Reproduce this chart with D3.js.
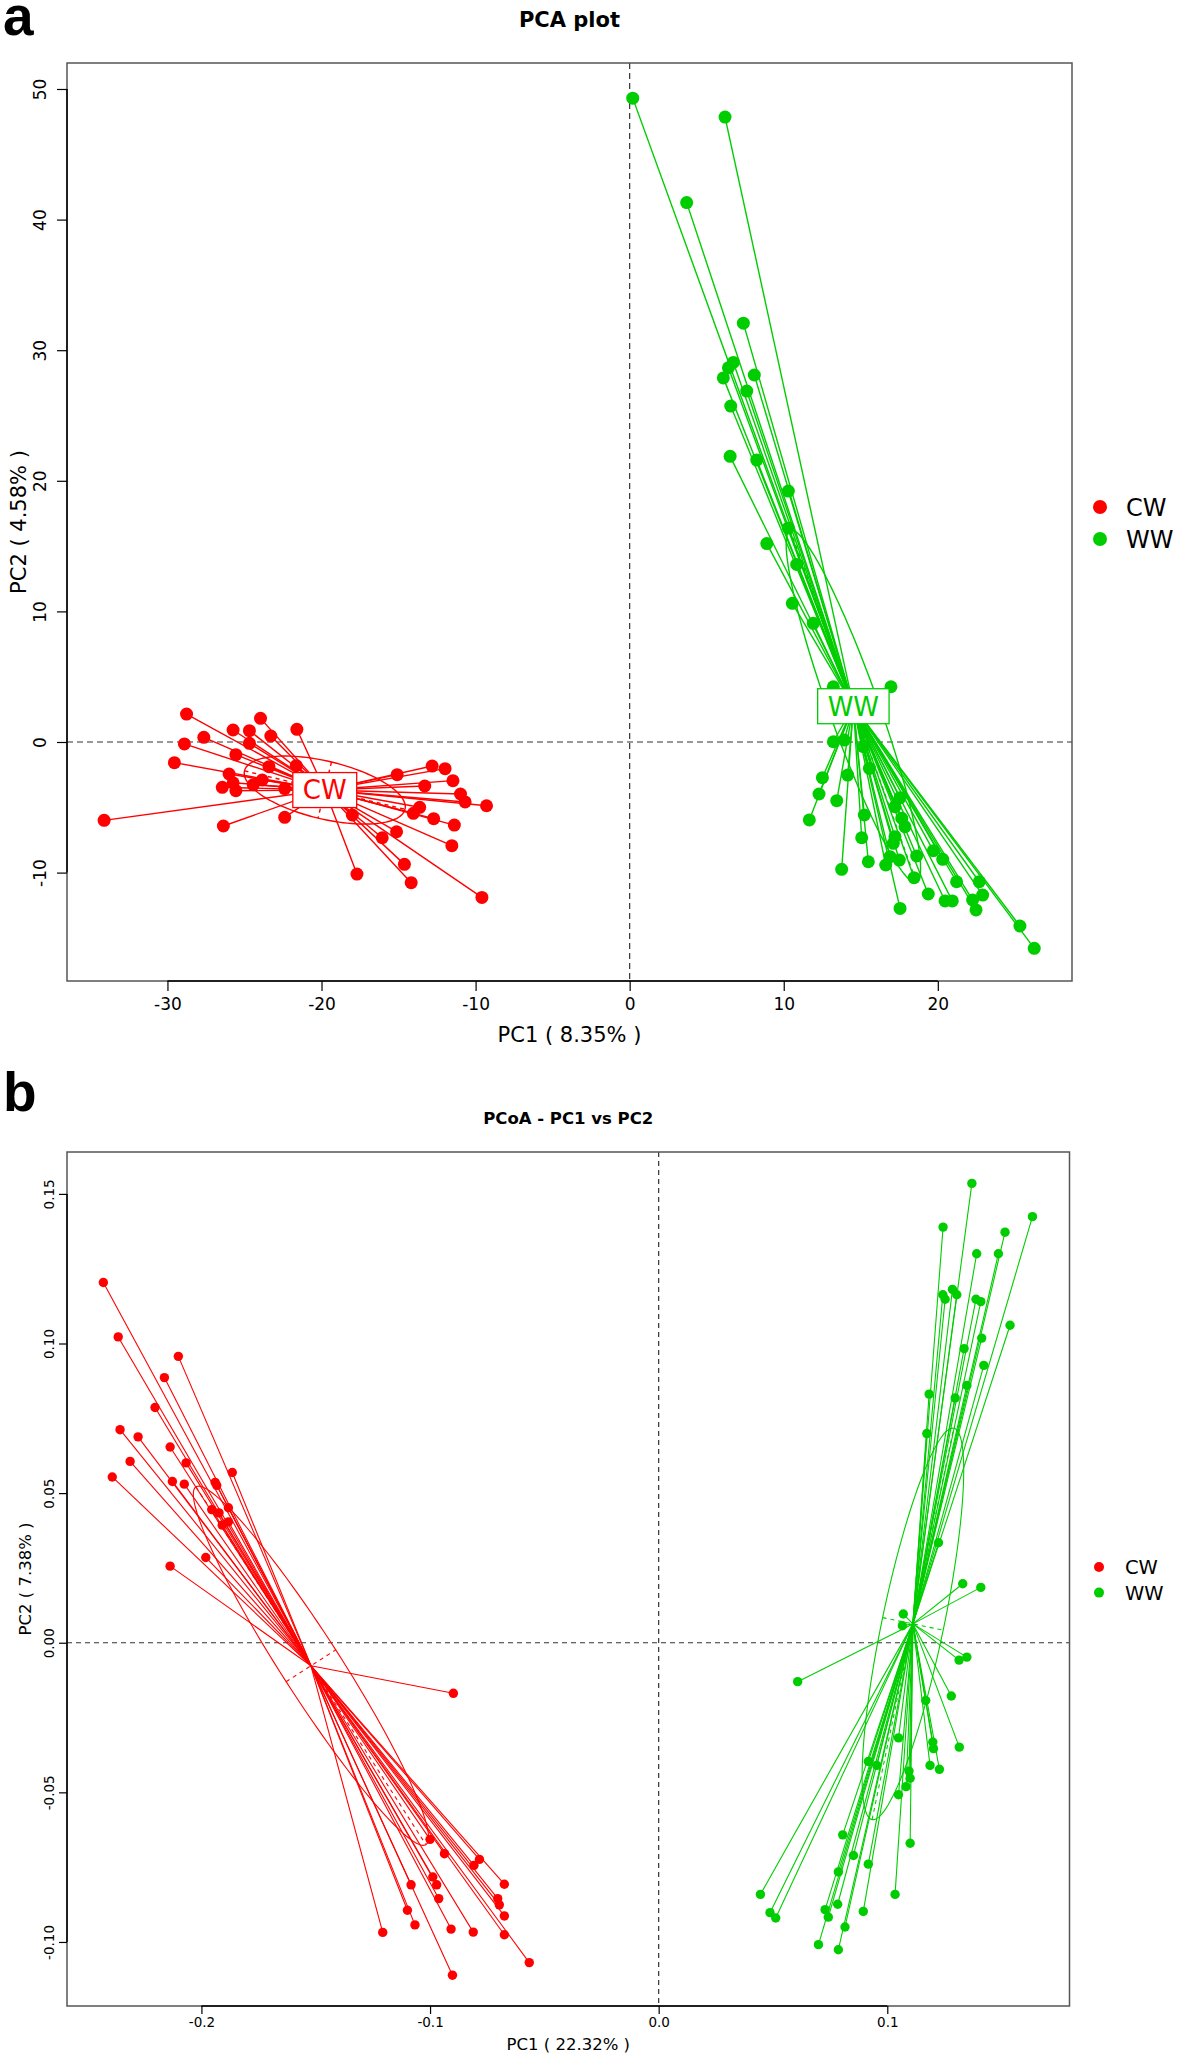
<!DOCTYPE html>
<html>
<head>
<meta charset="utf-8">
<script src="https://cdn.jsdelivr.net/npm/d3@7"></script>
<style>
  body { margin: 0; background: #fff; }
  svg { display: block; }
  text { font-family: "DejaVu Sans", sans-serif; }
</style>
</head>
<body>
<div id="chartDiv"></div>
<script>
const groups = ["CW", "WW"];
const groupColors = ["#ff0000", "#00cd00"];

// panel a - PCA scores [PC1, PC2]
const pcaCW = [
  [-28.76, 2.14], [-23.96, 1.81], [-25.74, 0.92], [-24.68, 0.87], [-21.60, 0.97],
  [-27.64, 0.36], [-23.29, 0.46], [-28.90, -0.15], [-24.68, -0.10], [-25.56, -0.97],
  [-29.55, -1.58], [-23.41, -1.89], [-21.64, -1.81], [-26.00, -2.45], [-25.74, -3.12],
  [-26.44, -3.47], [-25.56, -3.73], [-24.43, -3.27], [-23.85, -2.91], [-22.39, -3.57],
  [-34.11, -6.00], [-26.37, -6.43], [-22.39, -5.77], [-15.09, -2.50], [-12.82, -1.84],
  [-11.98, -2.04], [-11.47, -2.96], [-13.30, -3.37], [-10.98, -3.98], [-10.68, -4.59],
  [-9.29, -4.88], [-13.63, -5.00], [-14.04, -5.46], [-12.72, -5.87], [-11.38, -6.36],
  [-18.00, -5.59], [-15.13, -6.87], [-16.06, -7.33], [-11.54, -7.94], [-14.62, -9.37],
  [-14.18, -10.77], [-17.70, -10.11], [-9.59, -11.90]
];
const pcaWW = [
  [0.20, 49.30], [3.70, 41.30], [6.19, 47.85], [7.38, 32.07], [6.73, 29.06],
  [6.41, 28.65], [6.08, 27.88], [8.09, 28.10], [7.60, 26.87], [6.56, 25.72],
  [6.52, 21.87], [8.25, 21.59], [10.30, 19.21], [10.30, 16.39], [8.90, 15.19],
  [10.84, 13.60], [10.56, 10.62], [11.92, 9.09], [13.22, 4.23], [16.96, 4.23],
  [13.22, 0.02], [13.93, 0.15], [15.17, -0.36], [15.56, -2.02], [12.51, -2.73],
  [14.15, -2.53], [12.29, -3.98], [13.44, -4.49], [11.66, -5.97], [15.23, -5.59],
  [17.55, -4.26], [17.22, -4.95], [17.66, -5.84], [17.87, -6.49], [15.06, -7.33],
  [17.22, -7.25], [17.11, -7.76], [13.76, -9.75], [15.49, -9.17], [16.62, -9.42],
  [16.90, -8.78], [17.50, -9.04], [18.63, -8.73], [19.71, -8.32], [20.32, -8.98],
  [18.46, -10.39], [19.38, -11.64], [20.47, -12.17], [20.94, -12.17], [21.22, -10.70],
  [22.69, -10.70], [22.91, -11.72], [22.26, -12.10], [22.48, -12.86], [17.55, -12.74],
  [25.33, -14.09], [26.26, -15.80]
];
const pcaCenters = [[-19.79, -3.68], [14.52, 2.74]];
// ellipse half-axes (u = major, v = minor) in data units
const pcaEllipses = [
  { u: [5.21, -1.47], v: [-0.435, -2.15] },
  { u: [4.09, -13.48], v: [1.52, 0.64] }
];
const pcaXTicks = [-30, -20, -10, 0, 10, 20];
const pcaYTicks = [-10, 0, 10, 20, 30, 40, 50];

// panel b - PCoA scores [PC1, PC2]
const pcoaCW = [
  [-0.2429, 0.1204], [-0.2364, 0.1022], [-0.2101, 0.0957], [-0.2162, 0.0886], [-0.2203, 0.0786],
  [-0.2356, 0.0712], [-0.2277, 0.0688], [-0.2137, 0.0654], [-0.2312, 0.0606], [-0.2067, 0.0601],
  [-0.2390, 0.0554], [-0.2127, 0.0539], [-0.2075, 0.0530], [-0.1940, 0.0536], [-0.1933, 0.0526],
  [-0.1865, 0.0569], [-0.1955, 0.0445], [-0.1923, 0.0434], [-0.1882, 0.0451], [-0.1909, 0.0393],
  [-0.1882, 0.0404], [-0.1981, 0.0285], [-0.2137, 0.0256], [-0.0898, -0.0169], [-0.1000, -0.0657],
  [-0.0937, -0.0705], [-0.0784, -0.0724], [-0.0808, -0.0744], [-0.0675, -0.0807], [-0.0988, -0.0783],
  [-0.0971, -0.0809], [-0.1083, -0.0809], [-0.0962, -0.0855], [-0.0704, -0.0855], [-0.0697, -0.0876],
  [-0.0675, -0.0913], [-0.1099, -0.0894], [-0.1066, -0.0943], [-0.0908, -0.0957], [-0.0811, -0.0967],
  [-0.0675, -0.0976], [-0.1207, -0.0968], [-0.0902, -0.1111], [-0.0566, -0.1069]
];
const pcoaWW = [
  [0.1370, 0.1535], [0.1635, 0.1424], [0.1244, 0.1389], [0.1515, 0.1372], [0.1391, 0.1300],
  [0.1486, 0.1300], [0.1285, 0.1181], [0.1243, 0.1163], [0.1253, 0.1148], [0.1304, 0.1163],
  [0.1388, 0.1148], [0.1409, 0.1140], [0.1537, 0.1061], [0.1413, 0.1018], [0.1336, 0.0983],
  [0.1422, 0.0927], [0.1348, 0.0860], [0.1183, 0.0831], [0.1297, 0.0818], [0.1173, 0.0699],
  [0.1224, 0.0334], [0.1330, 0.0197], [0.1409, 0.0185], [0.1070, 0.0096], [0.1066, 0.0057],
  [0.1314, -0.0058], [0.1348, -0.0048], [0.0608, -0.0130], [0.1168, -0.0193], [0.1280, -0.0178],
  [0.1049, -0.0318], [0.1315, -0.0349], [0.1199, -0.0332], [0.1202, -0.0354], [0.1187, -0.0410],
  [0.1228, -0.0423], [0.0917, -0.0397], [0.0954, -0.0410], [0.1095, -0.0429], [0.1100, -0.0453],
  [0.1082, -0.0481], [0.1049, -0.0508], [0.1100, -0.0670], [0.0805, -0.0642], [0.0852, -0.0711],
  [0.0786, -0.0766], [0.0917, -0.0740], [0.1034, -0.0841], [0.0445, -0.0841], [0.0487, -0.0902],
  [0.0512, -0.0920], [0.0728, -0.0892], [0.0783, -0.0874], [0.0742, -0.0917], [0.0895, -0.0898],
  [0.0815, -0.0950], [0.0699, -0.1009], [0.0786, -0.1026]
];
const pcoaCenters = [[-0.1521, -0.0077], [0.1112, 0.0063]];
const pcoaEllipses = [
  { u: [0.0503, -0.0598], v: [0.01085, 0.00531] },
  { u: [0.01785, 0.0654], v: [0.01325, -0.0021] }
];
const pcoaXTicks = [-0.2, -0.1, 0.0, 0.1];
const pcoaYTicks = [-0.10, -0.05, 0.00, 0.05, 0.10, 0.15];

const width = 1181, height = 2056;
const svg = d3.select("#chartDiv").append("svg")
    .attr("width", width)
    .attr("height", height);
svg.append("rect").attr("width", width).attr("height", height).attr("fill", "#fff");

// R style numbers: plain hyphen for negatives
const fmt = digits => d => {
    const s = Math.abs(d).toFixed(digits);
    return (d < 0 && +s !== 0 ? "-" : "") + s;
};

function drawPanel(cfg) {
    const g = svg.append("g");
    const x = d3.scaleLinear().domain(cfg.xDomain).range([cfg.left, cfg.right]);
    const y = d3.scaleLinear().domain(cfg.yDomain).range([cfg.bottom, cfg.top]);

    // dashed reference lines through the origin
    g.append("line")
        .attr("x1", cfg.left).attr("x2", cfg.right)
        .attr("y1", y(0)).attr("y2", y(0))
        .attr("stroke", "#333").attr("stroke-width", 1.2)
        .attr("stroke-dasharray", cfg.dash);
    g.append("line")
        .attr("x1", x(0)).attr("x2", x(0))
        .attr("y1", cfg.top).attr("y2", cfg.bottom)
        .attr("stroke", "#333").attr("stroke-width", 1.2)
        .attr("stroke-dasharray", cfg.dash);

    // ellipses + their axes
    const angles = d3.range(0, 361, 3).map(d => d * Math.PI / 180);
    cfg.series.forEach((s, i) => {
        const c = cfg.centers[i], e = cfg.ellipses[i];
        g.append("path")
            .datum(angles)
            .attr("d", d3.line()
                .x(t => x(c[0] + Math.cos(t) * e.u[0] + Math.sin(t) * e.v[0]))
                .y(t => y(c[1] + Math.cos(t) * e.u[1] + Math.sin(t) * e.v[1])))
            .attr("fill", "none")
            .attr("stroke", groupColors[i])
            .attr("stroke-width", cfg.lw);
        [e.u, e.v].forEach(a => {
            g.append("line")
                .attr("x1", x(c[0] - a[0])).attr("y1", y(c[1] - a[1]))
                .attr("x2", x(c[0] + a[0])).attr("y2", y(c[1] + a[1]))
                .attr("stroke", groupColors[i])
                .attr("stroke-width", cfg.lw)
                .attr("stroke-dasharray", "4,4");
        });
    });

    // stars: each sample to its group centroid
    cfg.series.forEach((s, i) => {
        const c = cfg.centers[i];
        g.selectAll(null)
            .data(s)
            .enter()
            .append("line")
            .attr("x1", d => x(d[0])).attr("y1", d => y(d[1]))
            .attr("x2", x(c[0])).attr("y2", y(c[1]))
            .attr("stroke", groupColors[i])
            .attr("stroke-width", cfg.lw);
    });

    // points
    cfg.series.forEach((s, i) => {
        g.selectAll(null)
            .data(s)
            .enter()
            .append("circle")
            .attr("cx", d => x(d[0]))
            .attr("cy", d => y(d[1]))
            .attr("r", cfg.r)
            .attr("fill", groupColors[i]);
    });

    // group labels in boxes
    if (cfg.boxLabels) {
        groups.forEach((name, i) => {
            const c = cfg.centers[i];
            const t = g.append("text")
                .attr("x", x(c[0]))
                .attr("y", y(c[1]) + cfg.boxFont * 0.36)
                .attr("text-anchor", "middle")
                .style("font-size", cfg.boxFont + "px")
                .attr("fill", groupColors[i])
                .text(name);
            const w = t.node().getComputedTextLength() + 20;
            g.insert("rect", () => t.node())
                .attr("x", x(c[0]) - w / 2)
                .attr("y", y(c[1]) - 17.5)
                .attr("width", w)
                .attr("height", 35)
                .attr("fill", "#fff")
                .attr("stroke", groupColors[i])
                .attr("stroke-width", 1.3);
        });
    }

    // frame
    g.append("rect")
        .attr("x", cfg.left).attr("y", cfg.top)
        .attr("width", cfg.right - cfg.left)
        .attr("height", cfg.bottom - cfg.top)
        .attr("fill", "none")
        .attr("stroke", "#555")
        .attr("stroke-width", 1.5);

    // x axis
    const xAxis = d3.axisBottom(x)
        .tickValues(cfg.xTicks)
        .tickSize(cfg.tick)
        .tickFormat(cfg.xFormat);
    const gx = g.append("g")
        .attr("transform", `translate(0, ${cfg.bottom})`)
        .call(xAxis);
    gx.select(".domain").remove();
    gx.append("line")
        .attr("x1", x(cfg.xTicks[0])).attr("x2", x(cfg.xTicks[cfg.xTicks.length - 1]))
        .attr("stroke", "#000").attr("stroke-width", 1.5);
    gx.selectAll(".tick line").attr("stroke", "#000").attr("stroke-width", 1.2);
    gx.selectAll(".tick text")
        .attr("y", cfg.xLabelOffset)
        .attr("dy", null)
        .attr("fill", "#000")
        .style("font-size", cfg.tickFont + "px")
        .style("font-family", "DejaVu Sans");

    // y axis (labels parallel to the axis)
    const yAxis = d3.axisLeft(y)
        .tickValues(cfg.yTicks)
        .tickSize(cfg.tick)
        .tickFormat(cfg.yFormat);
    const gy = g.append("g")
        .attr("transform", `translate(${cfg.left}, 0)`)
        .call(yAxis);
    gy.select(".domain").remove();
    gy.append("line")
        .attr("y1", y(cfg.yTicks[0])).attr("y2", y(cfg.yTicks[cfg.yTicks.length - 1]))
        .attr("stroke", "#000").attr("stroke-width", 1.5);
    gy.selectAll(".tick line").attr("stroke", "#000").attr("stroke-width", 1.2);
    gy.selectAll(".tick text")
        .attr("x", null)
        .attr("dy", null)
        .attr("text-anchor", "middle")
        .attr("transform", `translate(${-cfg.yLabelOffset}, 0) rotate(-90)`)
        .attr("fill", "#000")
        .style("font-size", cfg.tickFont + "px")
        .style("font-family", "DejaVu Sans");

    // axis titles
    g.append("text")
        .attr("x", (cfg.left + cfg.right) / 2)
        .attr("y", cfg.xTitleY)
        .attr("text-anchor", "middle")
        .style("font-size", cfg.labFont + "px")
        .text(cfg.xTitle);
    g.append("text")
        .attr("transform", `translate(${cfg.yTitleX}, ${(cfg.top + cfg.bottom) / 2}) rotate(-90)`)
        .attr("text-anchor", "middle")
        .style("font-size", cfg.labFont + "px")
        .text(cfg.yTitle);

    // main title
    g.append("text")
        .attr("x", (cfg.left + cfg.right) / 2)
        .attr("y", cfg.titleY)
        .attr("text-anchor", "middle")
        .style("font-size", cfg.titleFont + "px")
        .style("font-weight", "bold")
        .text(cfg.title);

    // legend
    groups.forEach((name, i) => {
        const ly = cfg.legendY + i * cfg.legendStep;
        g.append("circle")
            .attr("cx", cfg.legendX).attr("cy", ly)
            .attr("r", cfg.legendR)
            .attr("fill", groupColors[i]);
        g.append("text")
            .attr("x", cfg.legendX + cfg.legendGap)
            .attr("y", ly + cfg.legendFont * 0.36)
            .style("font-size", cfg.legendFont + "px")
            .text(name);
    });

    // panel letter
    svg.append("text")
        .attr("x", 3)
        .attr("y", cfg.letterY)
        .style("font-family", "'Liberation Sans', Arial, sans-serif")
        .style("font-size", "55px")
        .style("font-weight", "bold")
        .text(cfg.letter);
}

drawPanel({
    letter: "a", letterY: 35,
    title: "PCA plot", titleY: 27, titleFont: 21,
    left: 67, right: 1072, top: 63, bottom: 981,
    xDomain: [-36.52, 28.71], yDomain: [-18.30, 51.99],
    series: [pcaCW, pcaWW], centers: pcaCenters, ellipses: pcaEllipses,
    xTicks: pcaXTicks, yTicks: pcaYTicks,
    xFormat: fmt(0), yFormat: fmt(0),
    tick: 10, tickFont: 17, xLabelOffset: 29, yLabelOffset: 21,
    labFont: 21, xTitle: "PC1 ( 8.35% )", xTitleY: 1042,
    yTitle: "PC2 ( 4.58% )", yTitleX: 26,
    r: 6.5, lw: 1.4, dash: "6,4",
    boxLabels: true, boxFont: 26,
    legendX: 1100, legendY: 507, legendStep: 32, legendR: 7, legendGap: 26, legendFont: 24
});

drawPanel({
    letter: "b", letterY: 1111,
    title: "PCoA - PC1 vs PC2", titleY: 1124, titleFont: 16.5,
    left: 67, right: 1069.5, top: 1152, bottom: 2006,
    xDomain: [-0.2588, 0.1797], yDomain: [-0.1214, 0.164],
    series: [pcoaCW, pcoaWW], centers: pcoaCenters, ellipses: pcoaEllipses,
    xTicks: pcoaXTicks, yTicks: pcoaYTicks,
    xFormat: fmt(1), yFormat: fmt(2),
    tick: 8, tickFont: 13.5, xLabelOffset: 21, yLabelOffset: 13,
    labFont: 16.5, xTitle: "PC1 ( 22.32% )", xTitleY: 2050,
    yTitle: "PC2 ( 7.38% )", yTitleX: 31,
    r: 4.7, lw: 1.1, dash: "5,4",
    boxLabels: false,
    legendX: 1099, legendY: 1567, legendStep: 25.6, legendR: 5, legendGap: 26, legendFont: 19.5
});
</script>
</body>
</html>
